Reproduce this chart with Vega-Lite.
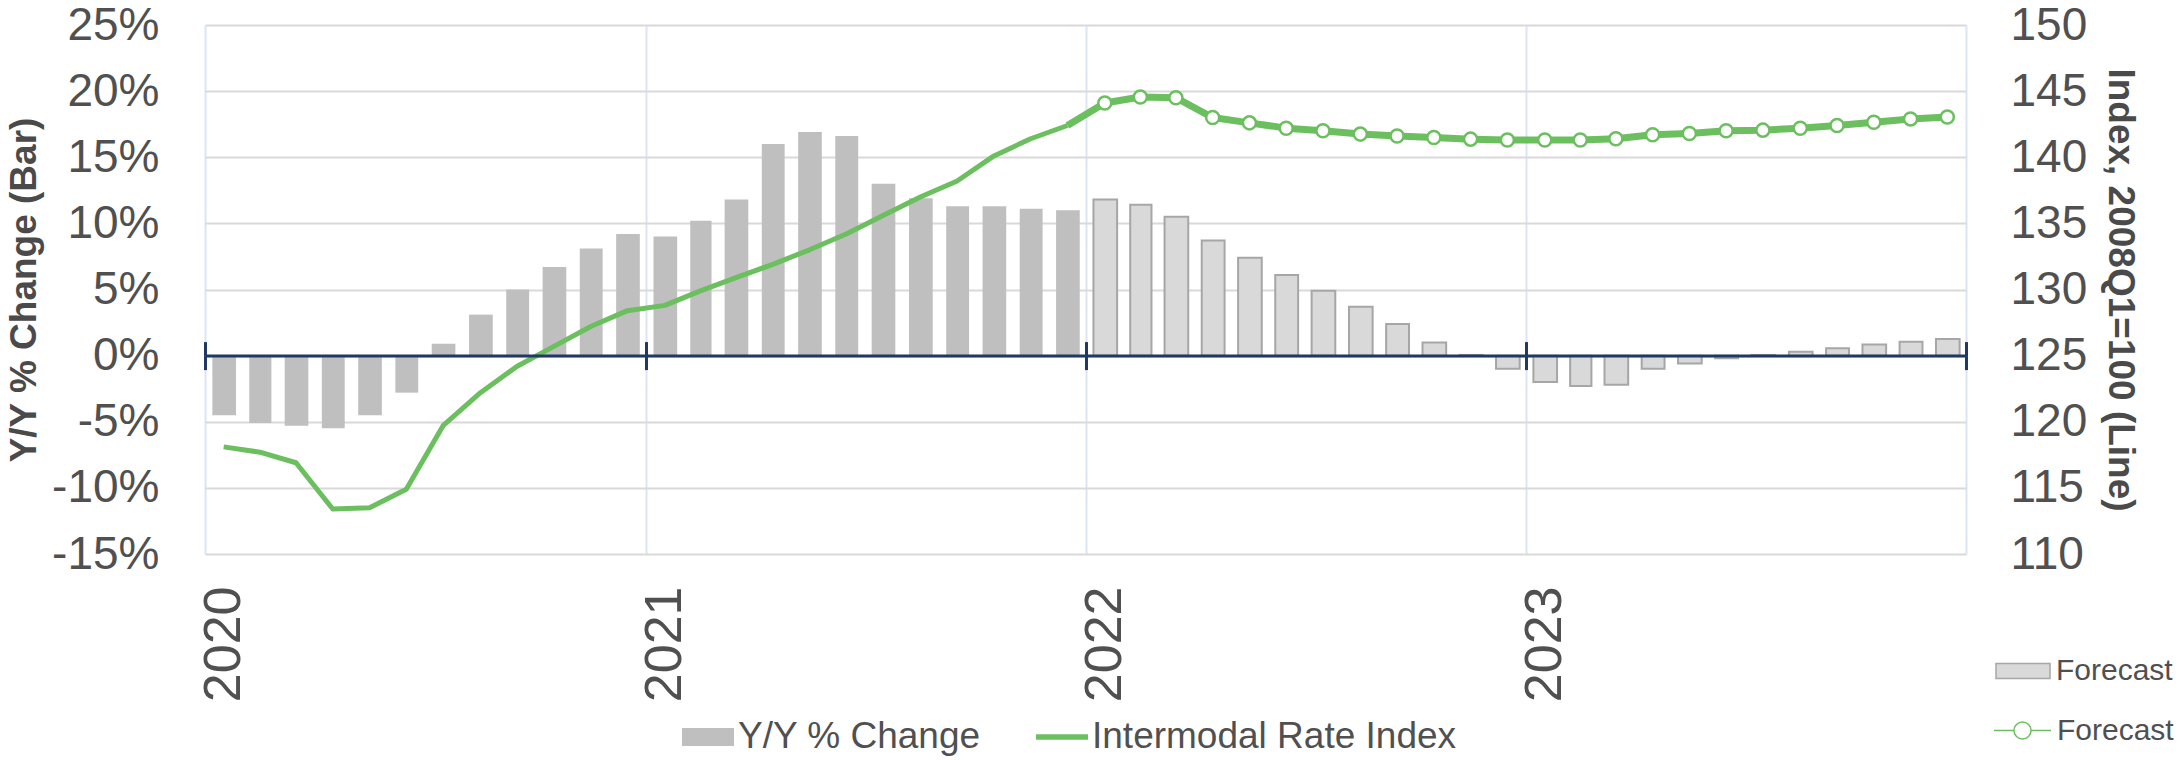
{
  "$schema": "https://vega.github.io/schema/vega-lite/v6.json",
  "width": 1761,
  "height": 529,
  "autosize": {"type": "none"},
  "padding": {"left": 205, "top": 25, "right": 214, "bottom": 206},
  "background": "white",
  "config": {
    "font": "Liberation Sans",
    "view": {"stroke": null},
    "axis": {"labelFont": "Liberation Sans", "titleFont": "Liberation Sans"},
    "legend": {"labelFont": "Liberation Sans"}
  },
  "data": {
    "values": [
      {"date": "2020-01-01", "yoy": -4.5, "index": 118.1, "type": "Actual"},
      {"date": "2020-02-01", "yoy": -5.1, "index": 117.7, "type": "Actual"},
      {"date": "2020-03-01", "yoy": -5.3, "index": 116.9, "type": "Actual"},
      {"date": "2020-04-01", "yoy": -5.5, "index": 113.4, "type": "Actual"},
      {"date": "2020-05-01", "yoy": -4.5, "index": 113.5, "type": "Actual"},
      {"date": "2020-06-01", "yoy": -2.8, "index": 114.9, "type": "Actual"},
      {"date": "2020-07-01", "yoy": 0.9, "index": 119.7, "type": "Actual"},
      {"date": "2020-08-01", "yoy": 3.1, "index": 122.2, "type": "Actual"},
      {"date": "2020-09-01", "yoy": 5.0, "index": 124.2, "type": "Actual"},
      {"date": "2020-10-01", "yoy": 6.7, "index": 125.7, "type": "Actual"},
      {"date": "2020-11-01", "yoy": 8.1, "index": 127.2, "type": "Actual"},
      {"date": "2020-12-01", "yoy": 9.2, "index": 128.4, "type": "Actual"},
      {"date": "2021-01-01", "yoy": 9.0, "index": 128.8, "type": "Actual"},
      {"date": "2021-02-01", "yoy": 10.2, "index": 129.9, "type": "Actual"},
      {"date": "2021-03-01", "yoy": 11.8, "index": 130.9, "type": "Actual"},
      {"date": "2021-04-01", "yoy": 16.0, "index": 131.9, "type": "Actual"},
      {"date": "2021-05-01", "yoy": 16.9, "index": 133.0, "type": "Actual"},
      {"date": "2021-06-01", "yoy": 16.6, "index": 134.2, "type": "Actual"},
      {"date": "2021-07-01", "yoy": 13.0, "index": 135.6, "type": "Actual"},
      {"date": "2021-08-01", "yoy": 11.9, "index": 137.0, "type": "Actual"},
      {"date": "2021-09-01", "yoy": 11.3, "index": 138.2, "type": "Actual"},
      {"date": "2021-10-01", "yoy": 11.3, "index": 140.1, "type": "Actual"},
      {"date": "2021-11-01", "yoy": 11.1, "index": 141.4, "type": "Actual"},
      {"date": "2021-12-01", "yoy": 11.0, "index": 142.4, "type": "Actual"},
      {"date": "2022-01-01", "yoy": 11.8, "index": 144.1, "type": "Forecast"},
      {"date": "2022-02-01", "yoy": 11.4, "index": 144.55, "type": "Forecast"},
      {"date": "2022-03-01", "yoy": 10.5, "index": 144.5, "type": "Forecast"},
      {"date": "2022-04-01", "yoy": 8.7, "index": 143.0, "type": "Forecast"},
      {"date": "2022-05-01", "yoy": 7.4, "index": 142.6, "type": "Forecast"},
      {"date": "2022-06-01", "yoy": 6.1, "index": 142.2, "type": "Forecast"},
      {"date": "2022-07-01", "yoy": 4.9, "index": 142.0, "type": "Forecast"},
      {"date": "2022-08-01", "yoy": 3.7, "index": 141.75, "type": "Forecast"},
      {"date": "2022-09-01", "yoy": 2.4, "index": 141.6, "type": "Forecast"},
      {"date": "2022-10-01", "yoy": 1.0, "index": 141.5, "type": "Forecast"},
      {"date": "2022-11-01", "yoy": 0.05, "index": 141.37, "type": "Forecast"},
      {"date": "2022-12-01", "yoy": -1.0, "index": 141.3, "type": "Forecast"},
      {"date": "2023-01-01", "yoy": -2.0, "index": 141.3, "type": "Forecast"},
      {"date": "2023-02-01", "yoy": -2.3, "index": 141.3, "type": "Forecast"},
      {"date": "2023-03-01", "yoy": -2.2, "index": 141.4, "type": "Forecast"},
      {"date": "2023-04-01", "yoy": -1.0, "index": 141.7, "type": "Forecast"},
      {"date": "2023-05-01", "yoy": -0.6, "index": 141.8, "type": "Forecast"},
      {"date": "2023-06-01", "yoy": -0.2, "index": 142.0, "type": "Forecast"},
      {"date": "2023-07-01", "yoy": 0.05, "index": 142.05, "type": "Forecast"},
      {"date": "2023-08-01", "yoy": 0.3, "index": 142.2, "type": "Forecast"},
      {"date": "2023-09-01", "yoy": 0.55, "index": 142.4, "type": "Forecast"},
      {"date": "2023-10-01", "yoy": 0.85, "index": 142.65, "type": "Forecast"},
      {"date": "2023-11-01", "yoy": 1.05, "index": 142.9, "type": "Forecast"},
      {"date": "2023-12-01", "yoy": 1.25, "index": 143.05, "type": "Forecast"}
    ]
  },
  "layer": [
    {
      "transform": [{"filter": "datum.type === 'Actual'"}],
      "mark": {"type": "bar", "width": {"band": 0.66}},
      "encoding": {
        "x": {
          "field": "date", "timeUnit": "utcyearmonth", "type": "temporal",
          "scale": {"domain": [{"year": 2020, "month": 1, "date": 1, "utc": true}, {"year": 2024, "month": 1, "date": 1, "utc": true}], "nice": false},
          "axis": {
            "orient": "bottom", "offset": -198.4, "domain": true, "domainColor": "#1F3864", "domainWidth": 3,
            "ticks": true, "tickColor": "#1F3864", "tickWidth": 3, "tickSize": 14,
            "labels": false, "grid": false, "title": null, "zindex": 1,
            "values": [
              {"year": 2020, "month": 1, "date": 1, "utc": true},
              {"year": 2021, "month": 1, "date": 1, "utc": true},
              {"year": 2022, "month": 1, "date": 1, "utc": true},
              {"year": 2023, "month": 1, "date": 1, "utc": true},
              {"year": 2024, "month": 1, "date": 1, "utc": true}
            ]
          }
        },
        "y": {
          "field": "yoy", "type": "quantitative",
          "scale": {"domain": [-15, 25], "nice": false, "zero": false},
          "axis": {
            "orient": "left", "values": [-15, -10, -5, 0, 5, 10, 15, 20, 25],
            "labelExpr": "datum.value + '%'", "labelFontSize": 46, "labelColor": "#505050", "labelPadding": 46,
            "ticks": false, "tickSize": 0, "domain": false,
            "grid": true, "gridColor": "#D9D9D9", "gridWidth": 2,
            "title": "Y/Y % Change (Bar)", "titleFontSize": 37, "titleFontWeight": "bold", "titleColor": "#4A4A4A", "titlePadding": 8
          }
        },
        "color": {
          "datum": "Y/Y % Change",
          "scale": {"domain": ["Y/Y % Change", "Intermodal Rate Index"], "range": ["#BFBFBF", "#6BBF5F"]},
          "legend": {
            "orient": "none", "legendX": 477, "legendY": 686, "direction": "horizontal", "title": null,
            "labelFontSize": 37, "labelColor": "#505050", "labelOffset": 4, "labelLimit": 1000,
            "columnPadding": 55, "symbolSize": 2704, "padding": 0,
            "encode": {
              "symbols": {
                "update": {
                  "shape": {"signal": "datum.value === 'Y/Y % Change' ? 'M-1,-0.35H1V0.35H-1Z' : 'M-1,-0.11H1V0.11H-1Z'"},
                  "fill": {"signal": "datum.value === 'Y/Y % Change' ? '#BFBFBF' : '#6BBF5F'"},
                  "stroke": {"signal": "'transparent'"},
                  "strokeWidth": {"signal": "0"},
                  "opacity": {"signal": "1"}
                }
              }
            }
          }
        }
      }
    },
    {
      "transform": [{"filter": "datum.type === 'Forecast'"}],
      "mark": {"type": "bar", "width": {"band": 0.66}, "fill": "#D9D9D9", "strokeWidth": 2},
      "encoding": {
        "x": {
          "field": "date", "timeUnit": "utcyearmonth", "type": "temporal",
          "axis": {
            "orient": "top", "offset": -330.6, "domain": false,
            "ticks": true, "tickColor": "#1F3864", "tickWidth": 3, "tickSize": 14,
            "labels": false, "grid": false, "title": null, "zindex": 1,
            "values": [
              {"year": 2020, "month": 1, "date": 1, "utc": true},
              {"year": 2021, "month": 1, "date": 1, "utc": true},
              {"year": 2022, "month": 1, "date": 1, "utc": true},
              {"year": 2023, "month": 1, "date": 1, "utc": true},
              {"year": 2024, "month": 1, "date": 1, "utc": true}
            ]
          }
        },
        "y": {"field": "yoy", "type": "quantitative", "scale": {"domain": [-15, 25], "nice": false, "zero": false}, "axis": null},
        "stroke": {
          "datum": "Forecast",
          "scale": {"domain": ["Forecast"], "range": ["#A6A6A6"]},
          "legend": {
            "orient": "none", "legendX": 1790, "legendY": 618, "title": null,
            "labelFontSize": 30, "labelColor": "#505050", "labelOffset": 5, "labelLimit": 1000,
            "symbolSize": 2916, "padding": 0,
            "symbolType": "M-1,-0.28H1V0.28H-1Z"
          }
        }
      }
    },
    {
      "transform": [{"filter": "datum.type === 'Actual'"}],
      "mark": {"type": "line", "strokeWidth": 5, "strokeJoin": "round"},
      "encoding": {
        "x": {
          "field": "date", "timeUnit": "utcyearmonth", "type": "temporal", "bandPosition": 0.5,
          "axis": {
            "orient": "bottom",
            "values": [
              {"year": 2020, "month": 1, "date": 1, "utc": true},
              {"year": 2021, "month": 1, "date": 1, "utc": true},
              {"year": 2022, "month": 1, "date": 1, "utc": true},
              {"year": 2023, "month": 1, "date": 1, "utc": true},
              {"year": 2024, "month": 1, "date": 1, "utc": true}
            ],
            "format": "%Y",
            "labelExpr": "utcyear(datum.value) < 2024 ? datum.label : ''",
            "labelAngle": 270, "labelAlign": "right", "labelBaseline": "middle",
            "labelFontSize": 52, "labelColor": "#505050", "labelPadding": 32, "labelOffset": 18,
            "labelFlush": false, "labelOverlap": false, "labelBound": false,
            "ticks": false, "tickSize": 0, "domain": false,
            "grid": true, "gridColor": "#DCE5F5", "gridWidth": 2, "title": null
          }
        },
        "y": {
          "field": "index", "type": "quantitative",
          "scale": {"domain": [110, 150], "nice": false, "zero": false},
          "axis": {
            "orient": "right", "values": [110, 115, 120, 125, 130, 135, 140, 145, 150],
            "labelFontSize": 46, "labelColor": "#505050", "labelPadding": 44,
            "ticks": false, "tickSize": 0, "domain": false, "grid": false,
            "title": "Index, 2008Q1=100 (Line)", "titleFontSize": 37, "titleFontWeight": "bold", "titleColor": "#4A4A4A",
            "titlePadding": 14, "titleAngle": 90
          }
        },
        "color": {"datum": "Intermodal Rate Index"}
      }
    },
    {
      "transform": [{"filter": "utcyear(datum.date) * 12 + utcmonth(datum.date) >= 24263"}],
      "mark": {"type": "line", "strokeWidth": 7, "strokeJoin": "round"},
      "encoding": {
        "x": {"field": "date", "timeUnit": "utcyearmonth", "type": "temporal", "bandPosition": 0.5, "axis": null},
        "y": {"field": "index", "type": "quantitative", "scale": {"domain": [110, 150], "nice": false, "zero": false}, "axis": null},
        "stroke": {
          "datum": "Forecast line",
          "scale": {"domain": ["Forecast line"], "range": ["#6BBF5F"]},
          "legend": {
            "orient": "none", "legendX": 1788, "legendY": 676, "title": null,
            "labelExpr": "'Forecast'",
            "labelFontSize": 30, "labelColor": "#505050", "labelOffset": 5, "labelLimit": 1000,
            "symbolSize": 3249, "padding": 0,
            "symbolType": "M-1,0H-0.3 M0.3,0H1 M0.3,0A0.3,0.3 0 1,1 -0.3,0A0.3,0.3 0 1,1 0.3,0"
          }
        }
      }
    },
    {
      "transform": [{"filter": "datum.type === 'Forecast'"}],
      "mark": {"type": "point", "shape": "circle", "filled": true, "fill": "white", "stroke": "#6BBF5F", "strokeWidth": 2.5, "size": 170, "opacity": 1},
      "encoding": {
        "x": {"field": "date", "timeUnit": "utcyearmonth", "type": "temporal", "bandPosition": 0.5, "axis": null},
        "y": {"field": "index", "type": "quantitative", "scale": {"domain": [110, 150], "nice": false, "zero": false}, "axis": null}
      }
    }
  ],
  "resolve": {"scale": {"y": "independent", "stroke": "independent"}, "axis": {"x": "independent", "y": "independent"}}
}
